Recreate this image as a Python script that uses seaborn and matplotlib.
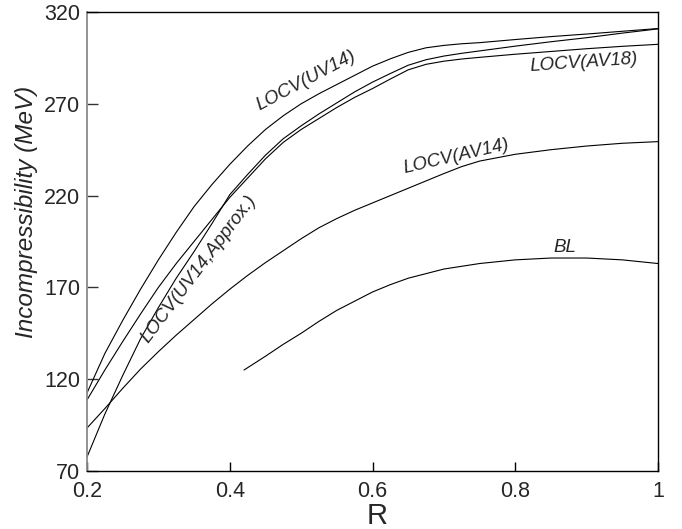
import matplotlib
matplotlib.use("Agg")
import matplotlib.pyplot as plt
import numpy as np
import pandas as pd
import seaborn as sns

# ---- data ----
R = [0.2, 0.225, 0.25, 0.275, 0.3, 0.325, 0.35, 0.375, 0.4, 0.425, 0.45,
     0.475, 0.5, 0.525, 0.55, 0.575, 0.6, 0.625, 0.65, 0.675, 0.7, 0.725,
     0.75, 0.8, 0.85, 0.9, 0.95, 1.0]
K_UV14 = [112.5, 134, 152, 169, 185, 200, 214, 226, 237, 247, 256,
          263.5, 270, 275.5, 280.5, 285.5, 290.5, 294.5, 298, 300.5, 301.8, 302.7,
          303.3, 305, 306.6, 308, 309.5, 311]
K_AV18 = [108.7, 125, 140.5, 155.5, 170, 183, 195, 207, 219, 229.5, 240,
          249, 256, 262, 268, 273.5, 278.3, 283.5, 288.5, 291.5, 293.2, 294.4,
          295.3, 297, 298.5, 300, 301.3, 302.4]
K_UV14_APPROX = [77.6, 101, 122, 142, 159, 175, 189.5, 204.7, 220.5, 231.5, 242,
                 251, 258, 264.5, 270.5, 276.5, 281.8, 286.5, 291, 294, 296, 297.5,
                 298.8, 301.4, 303.8, 306, 308.5, 310.8]
K_AV14 = [93.4, 104, 115, 125.5, 135, 144, 152.5, 161, 169, 176.5, 183.5,
          190, 196.5, 202.5, 207.5, 212, 216, 220, 224, 228, 232, 235.8,
          238.8, 242.5, 245, 247, 248.5, 249.4]
R_BL = [0.42, 0.45, 0.475, 0.5, 0.525, 0.55, 0.575, 0.6, 0.625, 0.65, 0.7,
        0.75, 0.8, 0.85, 0.9, 0.95, 1.0]
K_BL = [125, 132.5, 139, 145, 151.5, 157.5, 162.5, 167.5, 171.5, 175, 180,
        183, 185, 186, 186, 185, 183]

series_names = ["LOCV(UV14)", "LOCV(AV18)", "LOCV(UV14,Approx.)", "LOCV(AV14)", "BL"]
x_ticks = [0.2, 0.4, 0.6, 0.8, 1.0]
x_tick_labels = ["0.2", "0.4", "0.6", "0.8", "1"]
y_ticks = [70, 120, 170, 220, 270, 320]

sns.set_style("ticks")
plt.rcParams["font.family"] = ["Liberation Sans", "DejaVu Sans"]

frames = []
for name, xs, ys in zip(series_names,
                        [R, R, R, R, R_BL],
                        [K_UV14, K_AV18, K_UV14_APPROX, K_AV14, K_BL]):
    frames.append(pd.DataFrame({"R": xs, "K": ys, "model": name}))
df = pd.concat(frames, ignore_index=True)

fig = plt.figure(figsize=(6.82, 5.29), dpi=100)
ax = fig.add_axes([87 / 682, 58 / 529, 571 / 682, 459 / 529])

sns.lineplot(data=df, x="R", y="K", hue="model", hue_order=series_names,
             palette=["black"] * 5, legend=False, linewidth=0.8,
             estimator=None, ax=ax)

ax.set_xlim(0.2, 1.0)
ax.set_ylim(70, 320)
ax.set_xticks(x_ticks)
ax.set_xticklabels(x_tick_labels)
ax.set_yticks(y_ticks)
ax.set_yticklabels([str(v) for v in y_ticks])

for side in ["top", "right", "bottom"]:
    ax.spines[side].set_visible(True)
    ax.spines[side].set_color("black")
    ax.spines[side].set_linewidth(1.0)
ax.spines["left"].set_color("#8a8a8a")
ax.spines["left"].set_linewidth(1.3)

ax.xaxis.set_tick_params(which="major", direction="in", length=6.5, width=1.0,
                         color="black", pad=7, labelsize=15.5,
                         bottom=True, top=False)
ax.yaxis.set_tick_params(which="major", direction="in", length=8, width=1.0,
                         color="#333333", pad=5, labelsize=15.5,
                         left=True, right=False)

ax.set_ylabel("Incompressibility (MeV)", fontsize=17.5, style="italic")
ax.yaxis.set_label_coords(-0.086, 0.564)
ax.set_xlabel("R", fontsize=21)
ax.xaxis.set_label_coords(0.508, -0.068)

lab_kw = dict(fontsize=13.5, style="italic", ha="center", va="center",
              rotation_mode="anchor")
ax.text(0.507, 282.4, "LOCV(UV14)", rotation=28, **lab_kw)
ax.text(0.356, 180.0, "LOCV(UV14,Approx.)", rotation=53, **lab_kw)
ax.text(0.718, 241.4, "LOCV(AV14)", rotation=13, **lab_kw)
ax.text(0.8966, 292.5, "LOCV(AV18)", rotation=4, **lab_kw)
ax.text(0.870, 191.7, "BL", rotation=0, **lab_kw)

fig.savefig("out.png", dpi=100)
